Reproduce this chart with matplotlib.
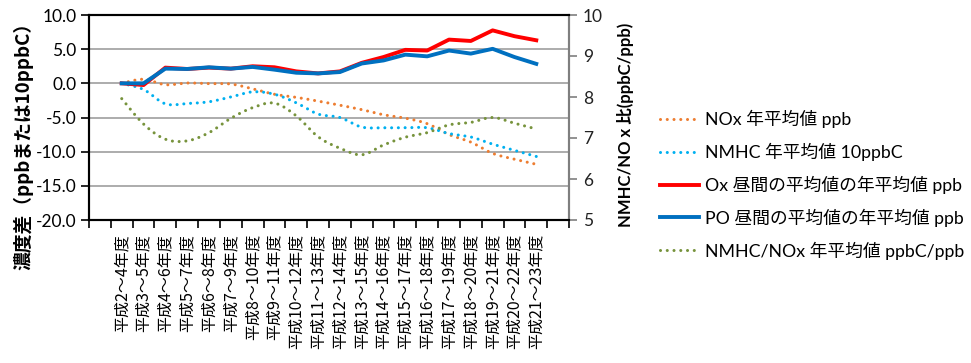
import numpy as np
import matplotlib.pyplot as plt
from matplotlib.lines import Line2D

plt.rcParams['font.family'] = ['Lato', 'Noto Sans CJK JP']

periods = ['平成2～4年度', '平成3～5年度', '平成4～6年度', '平成5～7年度', '平成6～8年度',
           '平成7～9年度', '平成8～10年度', '平成9～11年度', '平成10～12年度', '平成11～13年度',
           '平成12～14年度', '平成13～15年度', '平成14～16年度', '平成15～17年度', '平成16～18年度',
           '平成17～19年度', '平成18～20年度', '平成19～21年度', '平成20～22年度', '平成21～23年度']

# differences from the first period (left axis)
nox = [0.0, 0.6, -0.2, 0.05, -0.05, -0.1, -0.8, -1.6, -2.05, -2.6,
       -3.2, -3.85, -4.6, -5.1, -5.9, -7.5, -8.6, -10.25, -11.1, -11.85]
nmhc = [0.0, -0.9, -3.0, -2.95, -2.7, -2.0, -1.25, -1.6, -2.85, -4.5,
        -5.0, -6.4, -6.5, -6.5, -6.5, -7.35, -7.85, -8.9, -9.8, -10.7]
ox = [0.0, -0.25, 2.3, 2.1, 2.3, 2.15, 2.5, 2.35, 1.75, 1.45,
      1.75, 3.0, 3.85, 4.9, 4.8, 6.4, 6.2, 7.75, 6.9, 6.3]
po = [0.0, 0.0, 2.15, 2.1, 2.35, 2.15, 2.4, 2.0, 1.55, 1.45,
      1.65, 2.9, 3.35, 4.2, 3.95, 4.8, 4.35, 5.05, 3.85, 2.85]
# NMHC/NOx ratio (right axis)
ratio = [7.96, 7.34, 6.97, 6.93, 7.13, 7.48, 7.74, 7.85, 7.54, 7.03,
         6.75, 6.59, 6.83, 7.02, 7.13, 7.32, 7.38, 7.5, 7.36, 7.22]

x = np.arange(1, len(periods) + 1) + 0.5


def smooth(xs, ys, n=24):
    # Catmull-Rom curve through the points
    pts = np.column_stack([xs, ys])
    p = np.vstack([pts[0], pts, pts[-1]])
    t = np.linspace(0, 1, n, endpoint=False)[:, None]
    out = []
    for i in range(len(pts) - 1):
        p0, p1, p2, p3 = p[i], p[i + 1], p[i + 2], p[i + 3]
        seg = 0.5 * (2 * p1 + (-p0 + p2) * t + (2 * p0 - 5 * p1 + 4 * p2 - p3) * t**2
                     + (-p0 + 3 * p1 - 3 * p2 + p3) * t**3)
        out.append(seg)
    out.append(pts[-1:])
    c = np.vstack(out)
    return c[:, 0], c[:, 1]


c_nox, c_nmhc, c_ox, c_po, c_ratio = '#ED7D31', '#00B0F0', '#FF0000', '#0070C0', '#77933C'
dot = dict(linestyle=(0, (0.01, 2.2)), lw=2.2, dash_capstyle='round')

fig = plt.figure(figsize=(9.71, 3.63), dpi=100)
ax = fig.add_axes([89 / 971, 143 / 363, 480 / 971, 205 / 363])
ax2 = ax.twinx()

ax.plot(*smooth(x, nox), color=c_nox, **dot)
ax.plot(*smooth(x, nmhc), color=c_nmhc, **dot)
ax.plot(x, ox, color=c_ox, lw=2.8, solid_joinstyle='round')
ax.plot(x, po, color=c_po, lw=2.8, solid_joinstyle='round')
ax2.plot(*smooth(x, ratio), color=c_ratio, **dot)

ax.set_xlim(0, len(periods) + 2)
ax.set_ylim(-20, 10)
ax.set_yticks(np.arange(-20, 11, 5))
ax.set_yticklabels([f'{v:.1f}' for v in np.arange(-20, 11, 5)], fontsize=12.5)
ax.yaxis.grid(True, color='#A6A6A6', lw=1.3)
ax.set_axisbelow(True)

ax.set_xticks(x)
ax.set_xticklabels(periods, rotation=90, fontsize=11.5, family='Noto Sans CJK JP')
ax.set_xticks(np.arange(0, len(periods) + 3), minor=True)
ax.tick_params(axis='x', which='major', length=0, pad=10)
ax.tick_params(axis='x', which='minor', length=6, width=1.2, direction='out')
ax.tick_params(axis='y', length=6, width=1.2, pad=3)

ax2.set_ylim(5, 10)
ax2.set_yticks(range(5, 11))
ax2.tick_params(axis='y', length=6, width=1.2, colors='#222222', labelsize=12.5, pad=4)
ax2.tick_params(axis='y', color='#7F7F7F')

for a in (ax, ax2):
    for side in ('left', 'bottom', 'top'):
        a.spines[side].set_color('black')
        a.spines[side].set_linewidth(1.5)
    a.spines['right'].set_color('#7F7F7F')
    a.spines['right'].set_linewidth(1.5)

fig.text(23 / 971, 1 - 141 / 363, '濃度差（ppbまたは10ppbC）', rotation=90,
         ha='center', va='center', fontsize=13.5, fontweight='bold', family='Noto Sans CJK JP')
fig.text(625 / 971, 1 - 125 / 363, 'NMHC/NO x 比(ppbC/ppb)', rotation=90,
         ha='center', va='center', fontsize=12, fontweight='bold',
         family=['Lato', 'Noto Sans CJK JP'])

handles = [Line2D([], [], color=c_nox, **dot),
           Line2D([], [], color=c_nmhc, **dot),
           Line2D([], [], color=c_ox, lw=2.8),
           Line2D([], [], color=c_po, lw=2.8),
           Line2D([], [], color=c_ratio, **dot)]
labels = ['NOx 年平均値 ppb', 'NMHC 年平均値 10ppbC', 'Ox 昼間の平均値の年平均値 ppb',
          'PO 昼間の平均値の年平均値 ppb', 'NMHC/NOx 年平均値 ppbC/ppb']
fig.legend(handles, labels, loc='upper left', bbox_to_anchor=(653 / 971, 1 - 103 / 363),
           frameon=False, fontsize=12.8, handlelength=2.2, handletextpad=0.3,
           labelspacing=0.82, borderaxespad=0)

fig.savefig('out.png', dpi=100)
